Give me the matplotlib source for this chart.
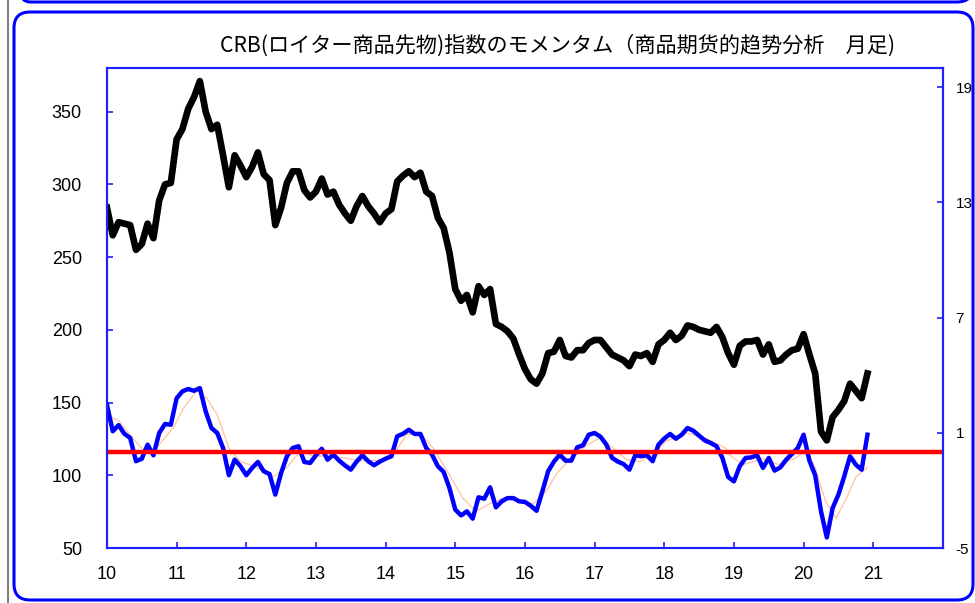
import numpy as np
import matplotlib
matplotlib.use("Agg")
import matplotlib.pyplot as plt
from matplotlib.patches import FancyBboxPatch
from matplotlib.transforms import IdentityTransform

plt.rcParams['font.family'] = ['Liberation Sans', 'DejaVu Sans']
plt.rcParams['axes.unicode_minus'] = False

# CRB index, monthly from Jan 2010 to Dec 2020 (left axis)
crb = [284, 265, 274, 273, 272, 255, 259, 273, 263, 289, 300, 301,
       331, 338, 352, 360, 371, 350, 338, 341, 320, 298, 320, 313,
       305, 312, 322, 307, 303, 272, 284, 301, 309, 309, 296, 291,
       295, 304, 293, 295, 286, 280, 275, 285, 292, 285, 280, 274,
       280, 283, 302, 306, 309, 305, 308, 295, 292, 277, 270, 253,
       228, 220, 224, 212, 230, 224, 228, 204, 202, 199, 194, 183,
       173, 166, 163, 170, 184, 185, 193, 182, 181, 186, 186, 191,
       193, 193, 188, 183, 181, 179, 175, 183, 182, 184, 178, 190,
       193, 198, 193, 196, 203, 202, 200, 199, 198, 202, 195, 184,
       176, 189, 192, 192, 193, 183, 190, 178, 179, 183, 186, 187,
       197, 183, 170, 130, 124, 140, 145, 151, 163, 158, 153, 170]

# momentum (right axis)
momentum = [2.46, 1.08, 1.4, 0.95, 0.73, -0.48, -0.35, 0.38, -0.17, 0.99, 1.46, 1.42,
            2.8, 3.16, 3.28, 3.19, 3.33, 2.12, 1.25, 0.99, 0.21, -1.21, -0.4, -0.74,
            -1.21, -0.83, -0.52, -1.0, -1.15, -2.22, -1.09, -0.22, 0.21, 0.3, -0.52, -0.57,
            -0.17, 0.17, -0.4, -0.14, -0.45, -0.7, -0.92, -0.5, -0.17, -0.48, -0.69, -0.5,
            -0.35, -0.22, 0.82, 0.95, 1.16, 0.94, 0.94, 0.21, -0.14, -0.74, -1.04, -1.88,
            -3.0, -3.3, -3.09, -3.47, -2.36, -2.43, -1.84, -2.88, -2.57, -2.4, -2.4, -2.57,
            -2.6, -2.8, -3.06, -2.05, -1.0, -0.5, -0.14, -0.45, -0.45, 0.24, 0.35, 0.9,
            0.99, 0.8, 0.4, -0.3, -0.5, -0.63, -0.92, -0.17, -0.22, -0.17, -0.48, 0.38,
            0.7, 0.94, 0.69, 0.9, 1.25, 1.11, 0.85, 0.6, 0.47, 0.3, -0.3, -1.3,
            -1.53, -0.74, -0.31, -0.28, -0.17, -0.83, -0.31, -0.97, -0.8, -0.4, -0.1, 0.21,
            0.9, -0.45, -1.21, -3.09, -4.45, -2.92, -2.22, -1.27, -0.22, -0.66, -0.92, 0.9]

# thin smoothed momentum line, read at scattered months
sig_months = [0, 2.1, 4.4, 6, 8, 10.4, 11.5, 13.2, 15.5, 17.2, 19, 21, 23, 25.3, 28.7, 31,
              33.2, 35.5, 37.2, 40.6, 43.5, 46.4, 49, 51.6, 53.9, 56.2, 59, 61.3, 63.6,
              65.9, 68.2, 71.7, 73.4, 75.7, 77.5, 79.7, 82.6, 84.9, 87.2, 89.5, 91.8, 94,
              96.3, 99.7, 103.1, 106.6, 107.2, 109.5, 113, 115.8, 118.6, 120.6, 122,
              123.8, 125.6, 127.4, 129, 131]
sig_vals = [1.94, 1.6, 0.73, 0.2, 0.0, 0.9, 1.3, 2.3, 3.2, 2.8, 1.94, 0.2, -0.5, -0.74,
            -1.27, -0.8, 0.0, -0.2, -0.22, -0.3, -0.45, -0.45, -0.3, 0.9, 1.0, 0.2, -1.2,
            -2.4, -3.1, -2.7, -2.4, -2.55, -2.7, -2.05, -1.1, -0.4, 0.35, 0.73, 0.2, -0.4,
            -0.5, -0.14, 0.55, 1.0, 0.73, 0.2, -0.14, -0.66, -0.35, -0.66, -0.31, 0.1,
            -0.83, -2.57, -3.45, -2.4, -1.3, -0.8]

months = np.arange(len(crb))
x = 10 + months / 12
xs = 10 + np.array(sig_months) / 12

fig = plt.figure(figsize=(9.75, 6.03), dpi=100)
ax = fig.add_axes([0.1097, 0.0912, 0.8574, 0.796])
ax2 = ax.twinx()

ax.plot(x, crb, color='black', lw=4.8, solid_joinstyle='round')
ax2.plot(xs, sig_vals, color='#FFC0A0', lw=0.9)
ax2.plot(x, momentum, color='#0000FF', lw=3.2, solid_joinstyle='round')
ax2.axhline(0, color='#FF0000', lw=3.2)

ax.set_xlim(10, 22)
ax.set_ylim(50, 380)
ax2.set_ylim(-5, 20)
ax.set_xticks(range(10, 22))
ax.set_xticklabels([str(v) for v in range(10, 22)])
ax.set_yticks(range(50, 351, 50))
ax2.set_yticks([-5, 1, 7, 13, 19])

for a in (ax, ax2):
    for s in a.spines.values():
        s.set_color('#2020FF')
        s.set_linewidth(1.5)
ax.tick_params(axis='both', direction='in', color='#2020FF', length=4, width=1.2)
ax.tick_params(axis='y', labelsize=13, pad=18)
ax.tick_params(axis='x', labelsize=13, pad=13)
ax2.tick_params(axis='y', direction='in', color='#2020FF', length=4, width=1.2,
                labelsize=11, pad=9)

fig.text(0.572, 0.925, "CRB(ロイター商品先物)指数のモメンタム（商品期货的趋势分析　月足)",
         ha='center', va='center', fontsize=15.2, fontweight='normal',
         family=['Noto Sans CJK JP', 'DejaVu Sans'])

# outer frames (pixel coordinates)
W, H = 975, 603
frame = FancyBboxPatch((14, 3), 959, 588, boxstyle="round,pad=0,rounding_size=16",
                       transform=IdentityTransform(), fill=False, ec='#0000FF', lw=2.2)
prev = FancyBboxPatch((14, 601), 959, 60, boxstyle="round,pad=0,rounding_size=16",
                      transform=IdentityTransform(), fill=False, ec='#0000FF', lw=2.2)
fig.patches.extend([frame, prev])
fig.lines.append(plt.Line2D([8 / W, 8 / W], [0, 1], transform=fig.transFigure,
                            color='#808080', lw=1.5))

fig.savefig("out.png", dpi=100)
